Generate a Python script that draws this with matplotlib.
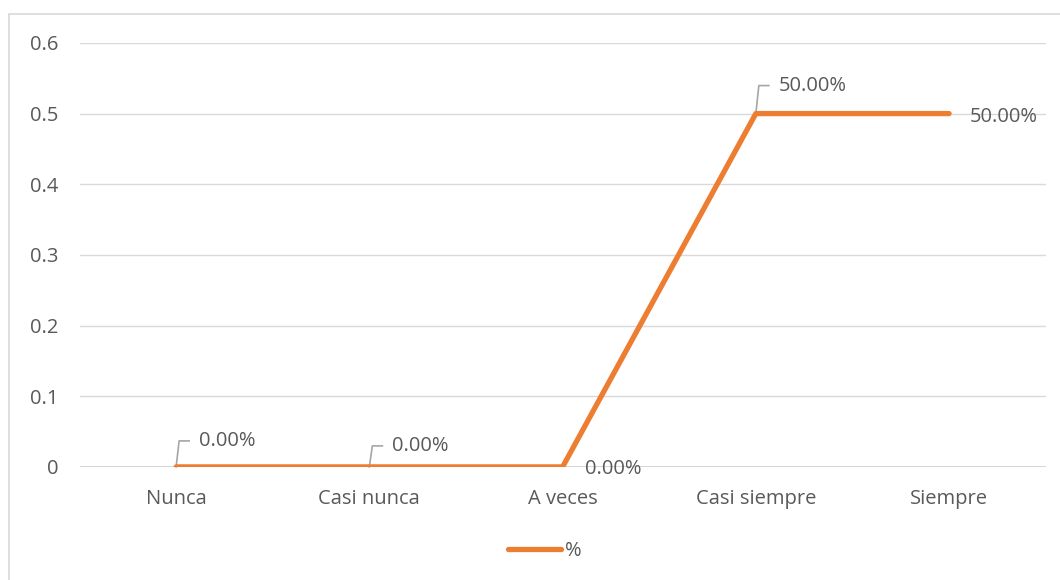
import matplotlib
matplotlib.use("Agg")
import matplotlib.pyplot as plt
from matplotlib.patches import Rectangle
from matplotlib.lines import Line2D

# data
categories = ["Nunca", "Casi nunca", "A veces", "Casi siempre", "Siempre"]
values = [0.0, 0.0, 0.0, 0.5, 0.5]
series_name = "%"
yticks = [0, 0.1, 0.2, 0.3, 0.4, 0.5, 0.6]

LINE_COLOR = "#ED7D31"
TEXT_COLOR = "#595959"
GRID_COLOR = "#D9D9D9"
FS = 14.5

plt.rcParams['font.family'] = ['Open Sans', 'DejaVu Sans']

fig = plt.figure(figsize=(10.6, 5.8), dpi=100)
ax = fig.add_axes([0.075, 0.195, 0.9115, 0.731])

# chart frame (only left and top edges visible)
fig.patches.append(Rectangle((9 / 1060, -0.2), 1.2, 1.2 - 14 / 580, transform=fig.transFigure,
                             fill=False, edgecolor=GRID_COLOR, linewidth=1.2))

x = list(range(len(categories)))
ax.plot(x, values, color=LINE_COLOR, linewidth=3.8, solid_capstyle='round',
        solid_joinstyle='round', zorder=3)

ax.set_xlim(-0.5, len(categories) - 0.5)
ax.set_ylim(0, 0.6)
ax.set_yticks(yticks)
ax.set_yticklabels([f"{t:g}" for t in yticks])
ax.set_xticks(x)
ax.set_xticklabels(categories)
ax.tick_params(axis='both', length=0, labelsize=FS, colors=TEXT_COLOR)
ax.tick_params(axis='y', pad=15)
ax.tick_params(axis='x', pad=16)
ax.grid(axis='y', color=GRID_COLOR, linewidth=1)
ax.set_axisbelow(True)
for s in ax.spines.values():
    s.set_visible(False)
ax.axhline(0, color="#D0D0D0", linewidth=1.2, zorder=2)

px = 0.72  # pixels -> points
# data labels: (dx, dy) in pixels from the point, leader line or not
label_specs = [(23, 26, True), (23, 21, True), (22, -2, False), (23, 28, True), (21, -3, False)]
for xi, v, (dx, dy, leader) in zip(x, values, label_specs):
    txt = f"{v * 100:.2f}%"
    ax.annotate(txt, (xi, v), xytext=(dx * px, dy * px), textcoords='offset points',
                ha='left', va='center', fontsize=FS, color=TEXT_COLOR, zorder=4)
    if leader:
        tr = ax.transData
        x0, y0 = tr.transform((xi, v))
        pts = [(x0, y0), (x0 + 3, y0 + dy), (x0 + 13, y0 + dy)]
        inv = ax.transData.inverted()
        dpts = [inv.transform(p) for p in pts]
        ax.plot([p[0] for p in dpts], [p[1] for p in dpts], color="#A6A6A6",
                linewidth=1.2, zorder=2, clip_on=False)

handle = Line2D([], [], color=LINE_COLOR, linewidth=3.8, solid_capstyle='round')
fig.legend([handle], [series_name], loc='center', bbox_to_anchor=(0.5 + 15 / 1060, 1 - 551 / 580),
           frameon=False, fontsize=FS, labelcolor=TEXT_COLOR, handlelength=2.6,
           handletextpad=0.2)

fig.savefig("out.png", dpi=100)
